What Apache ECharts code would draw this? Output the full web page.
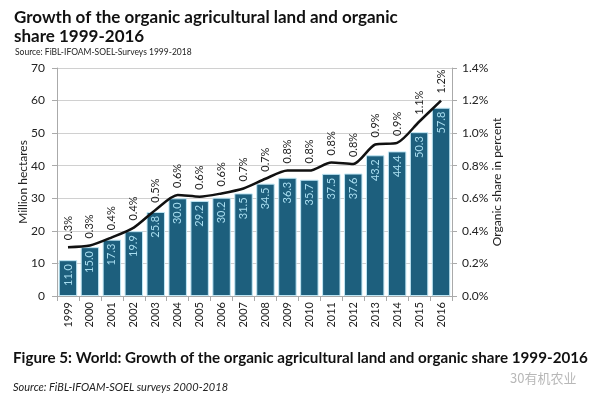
<!DOCTYPE html>
<html>
<head>
<meta charset="utf-8">
<script src="https://cdn.jsdelivr.net/npm/echarts@6/dist/echarts.min.js"></script>
<style>
html,body{margin:0;padding:0;background:#fff;}
#chart{width:600px;height:402px;}
</style>
</head>
<body>
<div id="chart"></div>
<script>
const years = ['1999','2000','2001','2002','2003','2004','2005','2006','2007','2008','2009','2010','2011','2012','2013','2014','2015','2016'];
const hectares = [11.0,15.0,17.3,19.9,25.8,30.0,29.2,30.2,31.5,34.5,36.3,35.7,37.5,37.6,43.2,44.4,50.3,57.8];
const shareValues = [0.30,0.31,0.36,0.42,0.53,0.62,0.61,0.63,0.66,0.72,0.77,0.77,0.82,0.81,0.93,0.94,1.07,1.20];
const shareLabels = ['0.3%','0.3%','0.4%','0.4%','0.5%','0.6%','0.6%','0.6%','0.7%','0.7%','0.8%','0.8%','0.8%','0.8%','0.9%','0.9%','1.1%','1.2%'];
const leftTicks = [0,10,20,30,40,50,60,70];
const rightTicks = ['0.0%','0.2%','0.4%','0.6%','0.8%','1.0%','1.2%','1.4%'];

const FONT = 'Lato, "DejaVu Sans", sans-serif';
const chart = echarts.init(document.getElementById('chart'), null, {renderer:'canvas'});
chart.setOption({
  backgroundColor:'#ffffff',
  animation:false,
  title:[
    {text:'Growth of the organic agricultural land and organic\nshare 1999-2016', left:9, top:3,
     textStyle:{fontFamily:FONT, fontWeight:'bold', fontSize:17, color:'#111', lineHeight:19}},
    {text:'Source: FiBL-IFOAM-SOEL-Surveys 1999-2018', left:10, top:43,
     textStyle:{fontFamily:FONT, fontWeight:'normal', fontSize:8.5, color:'#222'}},
    {text:'Figure 5: World: Growth of the organic agricultural land and organic share 1999-2016', left:8, top:346,
     textStyle:{fontFamily:FONT, fontWeight:'bold', fontSize:15.2, color:'#111'}},
    {text:'Source: FiBL-IFOAM-SOEL surveys 2000-2018', left:8, top:377,
     textStyle:{fontFamily:FONT, fontStyle:'italic', fontWeight:'normal', fontSize:11, color:'#222'}},
    {text:'30有机农业', left:505, top:367,
     textStyle:{fontFamily:'"Noto Sans CJK SC", sans-serif', fontWeight:'normal', fontSize:13, color:'#b8b8b8'}}
  ],
  grid:{left:57, right:148, top:68, bottom:106},
  xAxis:{
    type:'category', data:years,
    axisLine:{show:true, lineStyle:{color:'#aaa'}},
    axisTick:{show:true, alignWithLabel:false, lineStyle:{color:'#aaa'}},
    axisLabel:{rotate:90, fontFamily:FONT, fontSize:11, color:'#222', margin:6, interval:0}
  },
  yAxis:[
    {type:'value', min:0, max:70, interval:10, position:'left',
     name:'Million hectares', nameLocation:'middle', nameGap:28, nameRotate:90, nameMoveOverlap:false,
     nameTextStyle:{fontFamily:FONT, fontSize:12, color:'#222'},
     axisLine:{show:true, lineStyle:{color:'#aaa'}},
     axisTick:{show:true, lineStyle:{color:'#aaa'}},
     axisLabel:{fontFamily:FONT, fontSize:12, color:'#222', margin:12,
       formatter:function(v){return leftTicks.indexOf(v)>=0 ? String(v) : '';}},
     splitLine:{show:true, lineStyle:{color:'#d0d0d0', width:1}}},
    {type:'value', min:0, max:1.4, interval:0.2, position:'right',
     name:'Organic share in percent', nameLocation:'middle', nameGap:39, nameRotate:90, nameMoveOverlap:false,
     nameTextStyle:{fontFamily:FONT, fontSize:12, color:'#222'},
     axisLine:{show:true, lineStyle:{color:'#aaa'}},
     axisTick:{show:true, lineStyle:{color:'#aaa'}},
     axisLabel:{fontFamily:FONT, fontSize:12, color:'#222', margin:10,
       formatter:function(v){return rightTicks[Math.round(v/0.2)];}},
     splitLine:{show:false}}
  ],
  series:[
    {type:'bar', data:hectares, yAxisIndex:0, barCategoryGap:'16%',
     itemStyle:{color:'#1d5f7d', borderColor:'#bfe6f4', borderWidth:1},
     label:{show:true, position:'insideTop', rotate:90, align:'right', verticalAlign:'middle',
       distance:4, fontFamily:FONT, fontSize:11, color:'#a9def0',
       formatter:function(p){return hectares[p.dataIndex].toFixed(1);}}},
    {type:'line', data:shareValues, yAxisIndex:1, smooth:0.25,
     symbol:'circle', symbolSize:0, showSymbol:true,
     lineStyle:{color:'#111', width:2.5},
     itemStyle:{color:'#111'},
     label:{show:true, position:'top', rotate:90, align:'left', verticalAlign:'middle',
       distance:7, fontFamily:FONT, fontSize:11, color:'#222',
       formatter:function(p){return shareLabels[p.dataIndex];}},
     z:5}
  ]
});
</script>
</body>
</html>
